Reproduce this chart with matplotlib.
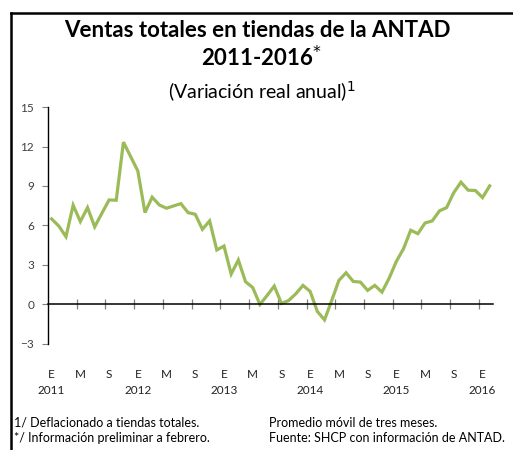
import numpy as np
import matplotlib
matplotlib.use('Agg')
import matplotlib.pyplot as plt
from matplotlib.lines import Line2D

plt.rcParams['font.family'] = ['Lato', 'DejaVu Sans']

# Variación real anual, promedio móvil de tres meses (ene 2011 - feb 2016)
valores = [6.5, 5.96, 5.15, 7.54, 6.3, 7.36, 5.9, 6.93, 7.94, 7.92, 12.33, 11.24,
           10.15, 6.98, 8.15, 7.56, 7.31, 7.49, 7.66, 6.98, 6.85, 5.71, 6.35, 4.14,
           4.44, 2.31, 3.38, 1.73, 1.29, 0.0, 0.68, 1.4, 0.08, 0.3, 0.81, 1.45,
           0.99, -0.53, -1.17, 0.3, 1.83, 2.41, 1.75, 1.70, 1.07, 1.45, 0.94, 2.0,
           3.27, 4.24, 5.64, 5.38, 6.19, 6.35, 7.11, 7.36, 8.5, 9.29, 8.68, 8.66,
           8.12, 9.01]
meses = ['E', 'M', 'S']
anios = ['2011', '2012', '2013', '2014', '2015', '2016']
y_ticks = [-3, 0, 3, 6, 9, 12, 15]

n = len(valores)
x = np.arange(n)

fig = plt.figure(figsize=(5.13, 4.5), dpi=100)
ax = fig.add_axes([0.0936, 0.2356, 0.868, 0.5266])

ax.plot(x, valores, color='#9BBB59', linewidth=2.3, solid_joinstyle='miter')

ax.set_xlim(-0.5, n - 0.5)
ax.set_ylim(-3, 15)

# ejes
for s in ['top', 'right']:
    ax.spines[s].set_visible(False)
ax.spines['left'].set_linewidth(1.0)
ax.spines['bottom'].set_position(('data', 0))
ax.spines['bottom'].set_linewidth(1.1)
ax.set_yticks(y_ticks)
ax.tick_params(axis='y', direction='out', length=4, width=0.8, color='#808080',
               labelsize=8.5, labelcolor='#404040', pad=6)
ax.set_xticks(np.arange(3.5, n - 1, 4))
ax.tick_params(axis='x', direction='inout', length=7, width=0.9, color='#808080',
               labelbottom=False)

# etiquetas de meses y años
trans = ax.get_xaxis_transform()
for i in range(0, n, 4):
    ax.text(i, -0.13, meses[(i // 4) % 3], transform=trans, ha='center', va='center',
            fontsize=8.5, color='#222222')
for k, a in enumerate(anios):
    ax.text(k * 12, -0.195, a, transform=trans, ha='center', va='center',
            fontsize=8.5, color='#222222')

# títulos
fig.text(0.501, 0.933, 'Ventas totales en tiendas de la ANTAD', ha='center', va='center',
         fontsize=16, fontweight='bold')
fig.text(0.51, 0.873, '2011-2016$^{*}$', ha='center', va='center',
         fontsize=16, fontweight='bold')
fig.text(0.51, 0.796, '(Variación real anual)$^{1}$', ha='center', va='center', fontsize=14)

# notas
fig.text(0.027, 0.061, '1/ Deflacionado a tiendas totales.', ha='left', va='center', fontsize=9)
fig.text(0.027, 0.026, '*/ Información preliminar a febrero.', ha='left', va='center', fontsize=9)
fig.text(0.524, 0.061, 'Promedio móvil de tres meses.', ha='left', va='center', fontsize=9)
fig.text(0.524, 0.026, 'Fuente: SHCP con información de ANTAD.', ha='left', va='center', fontsize=9)

# marco
fig.add_artist(Line2D([0.0205, 1.0], [0.971, 0.971], transform=fig.transFigure,
                      color='black', linewidth=1.8))
fig.add_artist(Line2D([0.0205, 0.0205], [0.0, 0.971], transform=fig.transFigure,
                      color='black', linewidth=1.8))

fig.savefig('out.png', dpi=100)
